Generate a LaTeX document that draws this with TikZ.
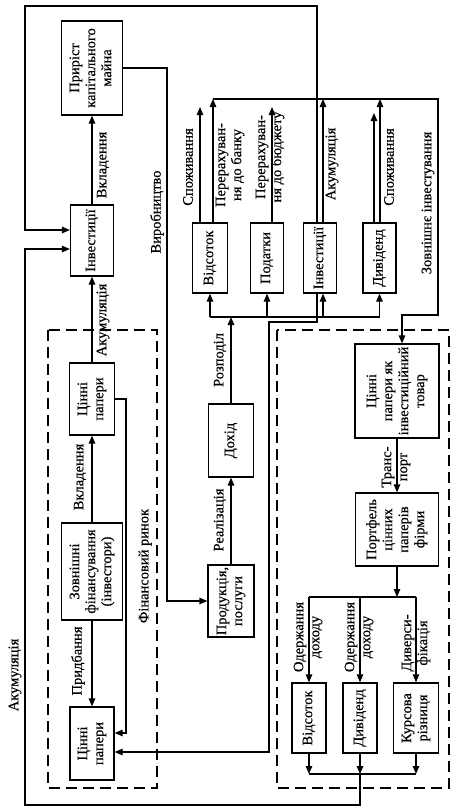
\documentclass[tikz,border=0pt]{standalone}
\usepackage{fontspec}
\setmainfont{Liberation Serif}[FakeBold=0.4]
\usetikzlibrary{arrows.meta}
\newcommand{\rottxt}[1]{\rotatebox{90}{\begin{tabular}{@{}c@{}}#1\end{tabular}}}
\begin{document}
\begin{tikzpicture}[x=1pt,y=-1pt,
  line width=1.25pt,
  font=\fontsize{14.5}{16}\selectfont,
  box/.style={draw, inner sep=0pt, align=center},
  arr/.style={-{Triangle[length=8pt,width=6.5pt]}},
  lbl/.style={rotate=90, inner sep=0pt, align=center},
  region/.style={dash pattern=on 11pt off 6pt}]
\useasboundingbox (0,0) rectangle (455,812);

% dashed regions
\draw[region] (48,330) rectangle (157,788);
\draw[region] (277,330) rectangle (449,788);

% left column
\node[box, minimum width=61pt, minimum height=94pt] (pr) at (92,68) {\rottxt{Приріст\\капітального\\майна}};
\node[box, minimum width=43pt, minimum height=71pt] (inv1) at (92,240.5) {\rottxt{Інвестиції}};
\node[box, minimum width=45pt, minimum height=72pt] (cp1) at (92,399) {\rottxt{Цінні\\папери}};
\node[box, minimum width=61pt, minimum height=97pt] (zf) at (92,571.5) {\rottxt{Зовнішні\\фінансування\\(інвестори)}};
\node[box, minimum width=44pt, minimum height=73pt] (cp2) at (92,743.5) {\rottxt{Цінні\\папери}};

% middle column
\node[box, minimum width=46pt, minimum height=72pt] (prod) at (231,601) {\rottxt{Продукція,\\послуги}};
\node[box, minimum width=45pt, minimum height=73pt] (doh) at (231,440.5) {\rottxt{Дохід}};

% top boxes
\node[box, minimum width=35pt, minimum height=70pt] (vid1) at (210,258) {\rottxt{Відсоток}};
\node[box, minimum width=33pt, minimum height=70pt] (pod) at (267,258) {\rottxt{Податки}};
\node[box, minimum width=33pt, minimum height=70pt] (inv2) at (320,258) {\rottxt{Інвестиції}};
\node[box, minimum width=33pt, minimum height=70pt] (div1) at (379.5,258) {\rottxt{Дивіденд}};

% right region
\node[box, minimum width=84pt, minimum height=94pt] (cpt) at (397,391) {\rottxt{Цінні\\папери як\\інвестиційний\\товар}};
\node[box, minimum width=83pt, minimum height=73pt] (port) at (397,529.5) {\rottxt{Портфель\\цінних\\паперів\\фірми}};
\node[box, minimum width=34pt, minimum height=70pt] (vid2) at (309,718) {\rottxt{Відсоток}};
\node[box, minimum width=34pt, minimum height=70pt] (div2) at (360,718) {\rottxt{Дивіденд}};
\node[box, minimum width=45pt, minimum height=70pt] (kr) at (416,718) {\rottxt{Курсова\\різниця}};

% helper coordinates
\coordinate (vr) at (167,68);
\coordinate (cpr) at (126,733);
\coordinate (ia) at (317,322);
\coordinate (ib) at (269,752);
\coordinate (tl1) at (317,6);
\coordinate (tl2) at (25,230);
\coordinate (bb) at (360,774);
\coordinate (bl1) at (360,805);
\coordinate (bl2) at (25,249);
\coordinate (pb) at (397,597);
\coordinate (rb) at (231,317);
\coordinate (tb) at (438,99);
\coordinate (tc) at (402,315);
\coordinate (ftop) at (0,107);
\coordinate (fdiv) at (0,113);
\coordinate (v1a) at ([xshift=-10pt]vid1.north);
\coordinate (v1b) at ([xshift=3pt]vid1.north);
\coordinate (pda) at ([xshift=5pt]pod.north);
\coordinate (i2a) at ([xshift=3pt]inv2.north);
\coordinate (i2b) at ([xshift=-3pt]inv2.north);
\coordinate (i2c) at ([xshift=3pt]inv2.south);
\coordinate (i2d) at ([xshift=-3pt]inv2.south);
\coordinate (d1a) at ([xshift=-5.5pt]div1.north);
\coordinate (d1b) at ([xshift=0.5pt]div1.north);
\coordinate (cpta) at ([xshift=5pt]cpt.north);

% left column arrows
\draw[arr] (inv1.north) -- (pr.south);
\draw[arr] (cp1.north) -- (inv1.south);
\draw[arr] (zf.north) -- (cp1.south);
\draw[arr] (zf.south) -- (cp2.north);

% production loop
\draw[arr] (pr.east) -- (vr) |- (prod.west);
\draw[arr] (cp1.east) -| (cpr) -- ([yshift=10.5pt]cp2.east);
\draw[arr] (i2d) -- (ia) -| (ib) -- ([yshift=-8.5pt]cp2.east);

% outer loops
\draw[arr] (i2b) -- (tl1) -| (tl2) -- ([yshift=10.5pt]inv1.west);
\draw[arr] (bb) -- (bl1) -| (bl2) -- ([yshift=-8.5pt]inv1.west);

% middle chain
\draw[arr] (prod.north) -- (doh.south);
\draw[arr] (doh.north) -- (rb);
\draw (vid1.south |- rb) -- (div1.south |- rb);
\draw[arr] (vid1.south |- rb) -- (vid1.south);
\draw[arr] (pod.south |- rb) -- (pod.south);
\draw[arr] (i2c |- rb) -- (i2c);
\draw[arr] (div1.south |- rb) -- (div1.south);

% top outputs
\draw[arr] (v1a) -- (v1a |- ftop);
\draw[arr] (pda) -- (pda |- ftop);
\draw[arr] (d1a) -- (d1a |- fdiv);
\draw[arr] (v1b) -- (v1b |- tb);
\draw[arr] (i2a) -- (i2a |- tb);
\draw[arr] (d1b) -- (d1b |- tb);
\draw[arr] (v1b |- tb) -- (tb) |- (tc) -- (cpta);

% right region
\draw[arr] (cpt.south) -- (port.north);
\draw[arr] (port.south) -- (pb);
\draw (vid2.north |- pb) -- (kr.north |- pb);
\draw[arr] (vid2.north |- pb) -- (vid2.north);
\draw[arr] (div2.north |- pb) -- (div2.north);
\draw[arr] (kr.north |- pb) -- (kr.north);
\draw (vid2.south |- bb) -- (kr.south |- bb);
\draw[arr] (vid2.south) -- (vid2.south |- bb);
\draw[arr] (div2.south) -- (div2.south |- bb);
\draw[arr] (kr.south) -- (kr.south |- bb);

% labels
\node[lbl] (l1) at (103,165) {Вкладення};
\node[lbl] (l2) at (103,320) {Акумуляція};
\node[lbl] (l3) at (80,477) {Вкладення};
\node[lbl] (l4) at (78,661) {Придбання};
\node[lbl] (l5) at (145,566) {Фінансовий ринок};
\node[lbl] (l6) at (15,675) {Акумуляція};
\node[lbl] (l7) at (157,212) {Виробництво};
\node[lbl] (l8) at (220,520) {Реалізація};
\node[lbl] (l9) at (220,360) {Розподіл};
\node[lbl] (l10) at (188,167) {Споживання};
\node[lbl] (l11) at (230,165) {Перерахуван-\\ня до банку};
\node[lbl] (l12) at (270,157) {Перерахуван-\\ня до бюджету};
\node[lbl] (l13) at (332,164) {Акумуляція};
\node[lbl] (l14) at (389,167) {Споживання};
\node[lbl] (l15) at (428,203) {Зовнішнє інвестування};
\node[lbl] (l16) at (396,467) {Транс-\\порт};
\node[lbl] (l17) at (308,637) {Одержання\\доходу};
\node[lbl] (l18) at (359,637) {Одержання\\доходу};
\node[lbl] (l19) at (416,643) {Диверси-\\фікація};
\end{tikzpicture}
\end{document}
